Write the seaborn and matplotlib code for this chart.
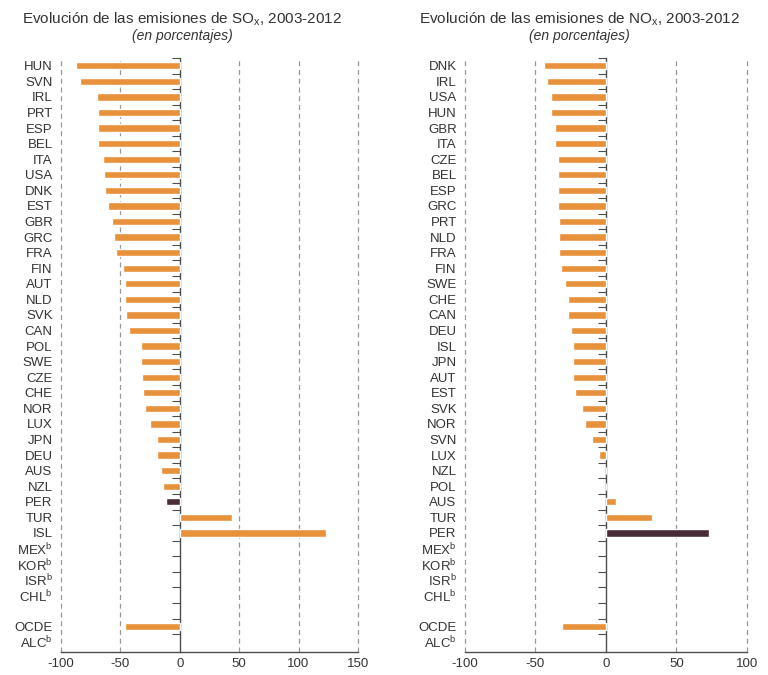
import numpy as np
import pandas as pd
import matplotlib
matplotlib.use("Agg")
import matplotlib.pyplot as plt
import seaborn as sns

sns.set_style("white")
plt.rcParams['font.family'] = ['Liberation Sans', 'DejaVu Sans']
plt.rcParams['mathtext.fontset'] = 'custom'
plt.rcParams['mathtext.rm'] = 'Liberation Sans'

# datos: SOx 2003-2012 (%)
sox_paises = ["HUN", "SVN", "IRL", "PRT", "ESP", "BEL", "ITA", "USA", "DNK", "EST",
              "GBR", "GRC", "FRA", "FIN", "AUT", "NLD", "SVK", "CAN", "POL", "SWE",
              "CZE", "CHE", "NOR", "LUX", "JPN", "DEU", "AUS", "NZL", "PER", "TUR",
              "ISL", "MEXb", "KORb", "ISRb", "CHLb", "", "OCDE", "ALCb"]
sox_valores = [-87, -84, -70, -69, -69, -69, -65, -64, -63, -60,
               -57, -55, -54, -48, -46, -46, -45, -43, -33, -33,
               -32, -31, -29, -25, -19, -19, -16, -14, -12, 44,
               123, np.nan, np.nan, np.nan, np.nan, np.nan, -46, np.nan]

# datos: NOx 2003-2012 (%)
nox_paises = ["DNK", "IRL", "USA", "HUN", "GBR", "ITA", "CZE", "BEL", "ESP", "GRC",
              "PRT", "NLD", "FRA", "FIN", "SWE", "CHE", "CAN", "DEU", "ISL", "JPN",
              "AUT", "EST", "SVK", "NOR", "SVN", "LUX", "NZL", "POL", "AUS", "TUR",
              "PER", "MEXb", "KORb", "ISRb", "CHLb", "", "OCDE", "ALCb"]
nox_valores = [-44, -42, -39, -39, -36, -36, -34, -34, -34, -34,
               -33, -33, -33, -32, -29, -27, -27, -25, -23, -23,
               -23, -22, -17, -15, -10, -5, 0, 0, 7, 33,
               73, np.nan, np.nan, np.nan, np.nan, np.nan, -31, np.nan]

naranja = "#E8913B"
oscuro = "#4A2C38"
gris = "#4d4d4d"


def etiqueta(p):
    if p.endswith("b") and p != "":
        return p[:-1] + r"$^\mathregular{b}$"
    return p


def panel(ax, paises, valores, xlim, xticks, zero_frac):
    df = pd.DataFrame({"pais": paises, "valor": valores})
    pal = {p: (oscuro if p == "PER" else naranja) for p in paises}
    sns.barplot(data=df, x="valor", y="pais", hue="pais", order=paises,
                palette=pal, legend=False, orient="h", width=0.47,
                saturation=1, ax=ax)
    ax.set_xlim(*xlim)
    ax.set_ylim(len(paises) - 0.35, -0.5)
    ax.set_xticks(xticks)
    ax.set_xticklabels([str(t) for t in xticks], fontsize=9.5, color="#333333")
    ax.set_yticks(range(len(paises)))
    ax.set_yticklabels([etiqueta(p) for p in paises], fontsize=9.5, color="#333333")
    ax.tick_params(axis="y", length=0, pad=6)
    ax.tick_params(axis="x", direction="inout", length=5, color=gris, pad=2)
    ax.set_xlabel("")
    ax.set_ylabel("")
    for s in ["top", "right", "left"]:
        ax.spines[s].set_visible(False)
    ax.spines["bottom"].set_color(gris)
    ax.spines["bottom"].set_linewidth(1.0)
    for t in xticks:
        if t != 0:
            ax.axvline(t, color="#999999", lw=0.9, ls=(0, (4, 3)), zorder=0,
                       clip_on=False)
    # eje vertical en cero con marcas entre filas
    sec = ax.secondary_yaxis(zero_frac)
    sec.yaxis.set_ticks_position("left")
    sec.set_yticks(np.arange(-0.5, len(paises) - 0.5, 1.0))
    sec.set_yticklabels([])
    sec.tick_params(axis="y", which="both", direction="out", length=6,
                    color=gris, width=0.8, left=True, right=False)
    for s in sec.spines.values():
        s.set_color(gris)
        s.set_linewidth(1.0)


fig = plt.figure(figsize=(7.68, 6.75), dpi=100)
ax1 = fig.add_axes([0.0794, 0.034, 0.3867, 0.880])
ax2 = fig.add_axes([0.6055, 0.034, 0.3668, 0.880])

panel(ax1, sox_paises, sox_valores, (-100, 150), [-100, -50, 0, 50, 100, 150], 0.4)
panel(ax2, nox_paises, nox_valores, (-100, 100), [-100, -50, 0, 50, 100], 0.5)

fig.text(0.237, 0.972, r"Evolución de las emisiones de SO$_\mathregular{x}$, 2003-2012",
         ha="center", va="center", fontsize=11, color="#333333")
fig.text(0.237, 0.946, "(en porcentajes)", ha="center", va="center",
         fontsize=10, style="italic", color="#333333")
fig.text(0.755, 0.972, r"Evolución de las emisiones de NO$_\mathregular{x}$, 2003-2012",
         ha="center", va="center", fontsize=11, color="#333333")
fig.text(0.755, 0.946, "(en porcentajes)", ha="center", va="center",
         fontsize=10, style="italic", color="#333333")

fig.savefig("out.png", dpi=100)
